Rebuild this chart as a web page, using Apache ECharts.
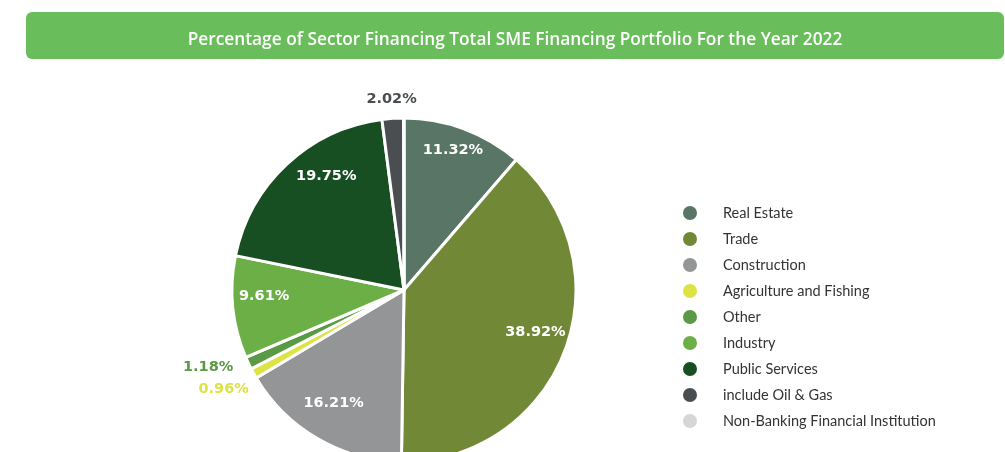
<!DOCTYPE html>
<html lang="en">
<head>
    <meta charset="utf-8">
    <title>SME Financing Portfolio 2022</title>
    <script src="https://cdn.jsdelivr.net/npm/echarts@6/dist/echarts.min.js"></script>
    <style>
        html, body { margin: 0; padding: 0; background: #fff; }
        #main { width: 1005px; height: 452px; }
    </style>
</head>
<body>
    <div id="main"></div>
    <script type="text/javascript">

    // sectors, clockwise from 12 o'clock
    var sectors = ['Real Estate', 'Trade', 'Construction', 'Agriculture and Fishing', 'Other',
                   'Industry', 'Public Services', 'include Oil & Gas', 'Non-Banking Financial Institution'];
    var shares = [11.32, 38.92, 16.21, 0.96, 1.18, 9.61, 19.75, 2.02, 0.03];
    var colors = ['#587565', '#718836', '#939596', '#dde245', '#5a9a45',
                  '#6daf47', '#174f22', '#4a4e50', '#d5d6d6'];

    // which label goes where
    var insideLabels = ['Real Estate', 'Trade', 'Construction', 'Industry', 'Public Services'];
    var topLabels = ['include Oil & Gas'];
    var sideLabels = ['Agriculture and Fishing', 'Other'];
    // small nudges so labels sit like the original
    var labelNudge = {
        'Public Services': [18, -3],
        'Other': [-4, -13],
        'Agriculture and Fishing': [5, -4]
    };

    var cx = 404, cy = 290, R = 172;

    function pct(p) { return p.value.toFixed(2) + '%'; }

    // build a data list, label shown only for names in `show`
    function makeData(show, transparent) {
        return sectors.map(function (name, i) {
            var d = { name: name, value: shares[i] };
            if (transparent) {
                d.itemStyle = { color: 'rgba(0,0,0,0)', borderWidth: 0 };
            } else {
                d.itemStyle = { color: colors[i] };
            }
            d.label = { show: show.indexOf(name) >= 0 };
            if (labelNudge[name]) d.label.offset = labelNudge[name];
            return d;
        });
    }

    // transparent ring that only carries labels
    function labelRing(center, radius, show, color) {
        return {
            type: 'pie',
            center: center,
            radius: radius,
            startAngle: 90,
            silent: true,
            legendHoverLink: false,
            avoidLabelOverlap: false,
            animation: false,
            label: {
                position: 'inside',
                formatter: pct,
                fontFamily: 'DejaVu Sans',
                fontWeight: 'bold',
                fontSize: 14.5,
                color: color
            },
            labelLine: { show: false },
            labelLayout: { hideOverlap: false },
            emphasis: { disabled: true },
            data: makeData(show, true)
        };
    }

    var chart = echarts.init(document.getElementById('main'));

    var insideRing = labelRing([cx, cy - 8], [R * 0.6, R], insideLabels, '#fff');
    var topRing = labelRing([cx, cy], [R, R + 32], topLabels, '#4a4e50');
    var sideRing = labelRing([cx, cy], [R + 8, R + 66], sideLabels, '#333');
    sideRing.data.forEach(function (d, i) { d.label.color = colors[i]; });

    chart.setOption({
        animation: false,
        color: colors,
        graphic: [{
            type: 'rect',
            left: 26,
            top: 12,
            shape: { width: 978, height: 47, r: 6 },
            style: { fill: '#69bd5a' },
            z: 0
        }],
        title: {
            text: 'Percentage of Sector Financing Total SME Financing Portfolio For the Year 2022',
            left: 510,
            top: 35,
            textAlign: 'center',
            textVerticalAlign: 'middle',
            textStyle: {
                color: '#fff',
                fontFamily: 'Open Sans',
                fontWeight: 600,
                fontSize: 17.3
            }
        },
        legend: {
            orient: 'vertical',
            left: 676,
            top: 199,
            height: 253,
            itemWidth: 56,
            itemHeight: 16,
            itemGap: 8,
            icon: 'circle',
            selectedMode: false,
            textStyle: {
                fontFamily: 'Lato',
                fontSize: 14.5,
                lineHeight: 16,
                color: '#333'
            },
            data: sectors
        },
        series: [{
            name: 'sectors',
            type: 'pie',
            center: [cx, cy],
            radius: [0, R],
            startAngle: 90,
            label: { show: false },
            labelLine: { show: false },
            itemStyle: { borderColor: '#fff', borderWidth: 3 },
            emphasis: { scale: false },
            data: makeData([], false)
        },
        insideRing,
        topRing,
        sideRing]
    });

    </script>
</body>
</html>
